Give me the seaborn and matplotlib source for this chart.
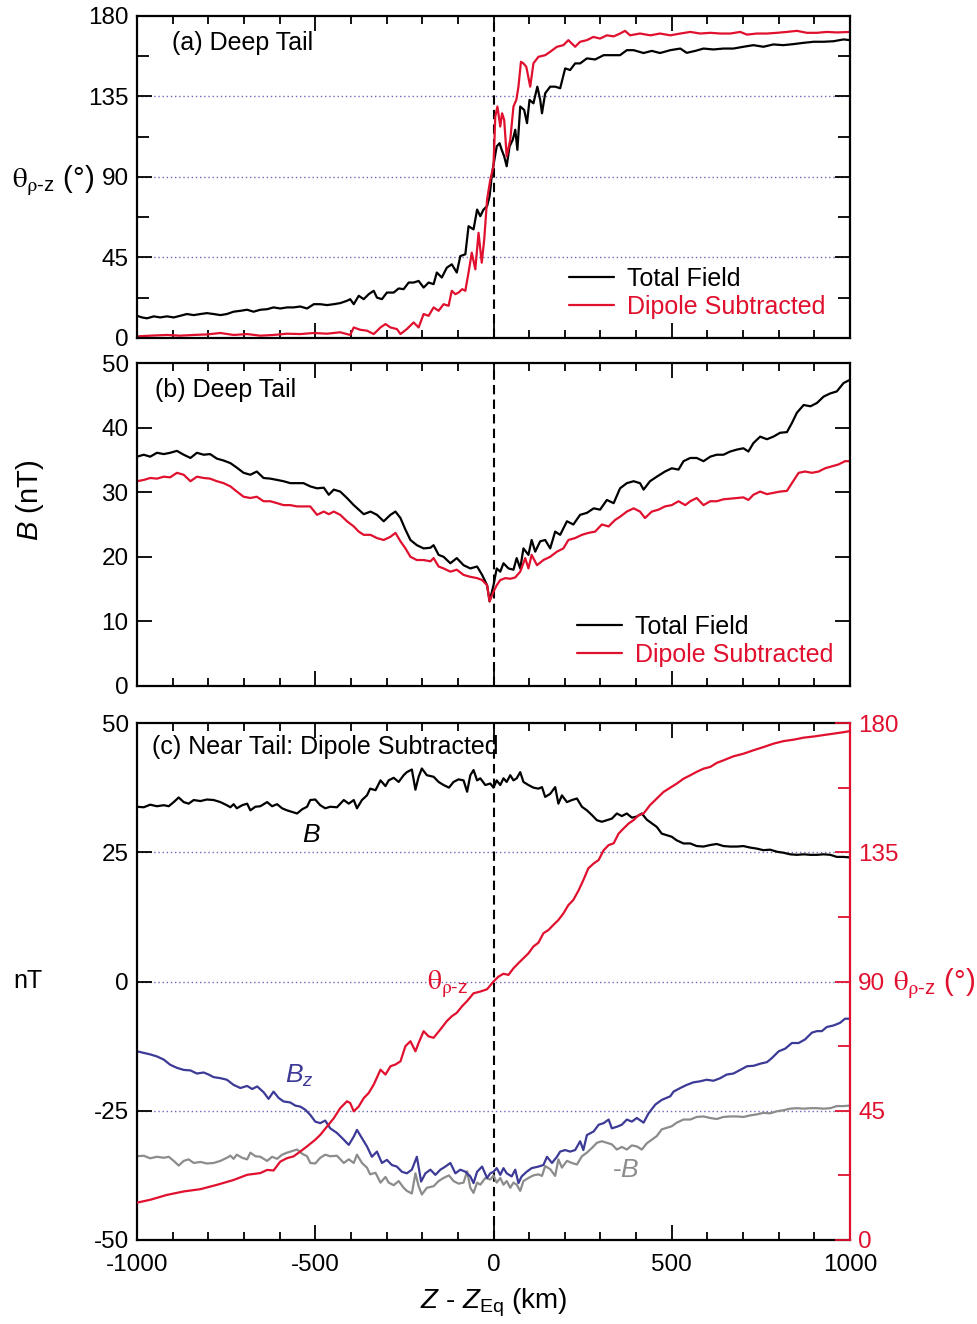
import matplotlib
matplotlib.use("Agg")
import numpy as np
import pandas as pd
import matplotlib.pyplot as plt
import seaborn as sns
from matplotlib.ticker import MultipleLocator, NullLocator

# ---- data ----
# (a) deep tail, field angle theta_rho-z (deg), total field
xa_tot = [-1000, -986, -972, -953, -935, -916, -897, -879, -860, -841,
          -822, -804, -785, -766, -748, -729, -710, -691, -673, -654,
          -635, -617, -598, -579, -561, -542, -523, -504, -486, -467,
          -448, -430, -411, -402, -392, -378, -364, -350, -336, -327,
          -313, -299, -280, -266, -252, -238, -224, -210, -196, -182,
          -168, -159, -145, -131, -117, -103, -93, -79, -70, -56,
          -46, -37, -28, -18, -11, -5, 0, 9, 17, 23,
          30, 37, 45, 54, 61, 67, 75, 86, 94, 101,
          112, 123, 131, 136, 145, 159, 173, 187, 201, 215,
          229, 243, 262, 285, 309, 337, 355, 374, 393, 421,
          444, 467, 496, 524, 542, 566, 589, 617, 645, 673,
          701, 729, 757, 785, 813, 842, 870, 898, 926, 954,
          982, 1000]
theta_a_tot = [12.4, 11.5, 11.0, 12.1, 11.5, 12.1, 11.5, 12.4, 13.4, 12.8,
               13.4, 13.9, 13.4, 12.8, 13.4, 14.7, 15.2, 15.8, 14.7, 15.8,
               16.1, 17.1, 16.5, 17.1, 17.1, 17.6, 16.5, 18.9, 18.9, 18.4,
               18.9, 19.5, 20.8, 21.7, 18.9, 23.6, 21.7, 24.5, 26.4, 22.6,
               21.7, 25.4, 25.4, 27.7, 27.3, 31.0, 31.0, 31.9, 28.2, 31.0,
               30.1, 36.6, 33.8, 39.3, 41.2, 36.6, 45.8, 46.8, 62.5, 60.7,
               71.8, 68.1, 71.8, 73.7, 79.2, 90.4, 96.9, 107.1, 108.9, 105.2,
               101.5, 96.0, 107.1, 110.8, 116.4, 105.2, 129.4, 127.5, 120.1, 133.1,
               131.2, 140.5, 133.1, 125.6, 136.8, 140.5, 140.5, 139.6, 150.7, 149.8,
               153.5, 153.5, 156.3, 155.7, 158.1, 158.1, 158.1, 160.9, 160.9, 159.3,
               160.5, 159.3, 160.9, 161.8, 159.4, 160.5, 161.8, 161.3, 161.8, 161.8,
               162.8, 163.7, 162.8, 164.1, 163.7, 164.3, 165.0, 165.6, 165.6, 165.9,
               166.9, 166.5]
# (a) dipole subtracted
xa_dip = [-1000, -963, -916, -879, -841, -804, -766, -729, -691, -654,
          -617, -579, -542, -504, -467, -430, -402, -392, -374, -355,
          -336, -317, -303, -289, -271, -261, -243, -224, -210, -196,
          -182, -168, -154, -140, -126, -117, -107, -98, -88, -79,
          -70, -61, -51, -42, -33, -26, -18, -9, 0, 5,
          11, 19, 24, 30, 37, 47, 56, 64, 70, 77,
          84, 92, 103, 112, 126, 145, 159, 178, 196, 210,
          229, 243, 262, 280, 299, 318, 337, 355, 369, 383,
          411, 440, 467, 496, 524, 552, 580, 608, 636, 664,
          692, 711, 739, 767, 795, 823, 851, 879, 907, 935,
          963, 1000]
theta_a_dip = [0.9, 1.3, 1.7, 1.3, 1.7, 2.0, 2.8, 1.7, 2.2, 1.3,
               1.7, 2.4, 2.2, 2.8, 2.4, 3.2, 1.7, 5.9, 4.6, 4.1,
               2.2, 5.9, 7.8, 5.9, 5.0, 2.2, 5.0, 8.7, 5.9, 13.4,
               12.4, 17.1, 15.2, 18.9, 18.0, 26.4, 24.5, 25.4, 27.3, 26.4,
               36.6, 47.7, 38.4, 58.8, 42.1, 55.1, 77.4, 88.5, 96.0, 123.8,
               129.4, 118.2, 125.6, 121.9, 101.5, 110.8, 129.4, 133.1, 140.5, 154.4,
               153.5, 151.6, 140.5, 153.5, 157.2, 158.1, 160.0, 162.8, 163.7, 166.5,
               162.8, 165.6, 166.5, 168.3, 167.4, 169.2, 168.6, 170.2, 171.7, 169.2,
               170.2, 169.2, 170.2, 169.2, 170.2, 171.1, 170.2, 170.6, 170.2, 170.2,
               171.1, 169.6, 170.2, 170.2, 170.6, 171.1, 171.7, 170.6, 170.6, 171.1,
               170.8, 171.1]

# (b) deep tail, field magnitude (nT), total field
xb_tot = [-1000, -981, -963, -944, -925, -907, -888, -869, -850, -832,
          -813, -795, -776, -757, -738, -720, -701, -682, -664, -645,
          -626, -607, -589, -570, -551, -533, -514, -495, -476, -462,
          -448, -430, -411, -392, -378, -364, -345, -327, -308, -289,
          -275, -261, -247, -233, -215, -196, -177, -168, -154, -140,
          -121, -103, -84, -65, -46, -32, -18, -11, 0, 9,
          19, 28, 42, 56, 65, 75, 84, 98, 107, 117,
          131, 145, 159, 173, 187, 206, 224, 243, 262, 281,
          299, 318, 337, 355, 374, 393, 411, 421, 439, 458,
          481, 500, 519, 533, 552, 570, 589, 608, 626, 645,
          664, 683, 701, 715, 729, 748, 767, 785, 804, 823,
          837, 851, 870, 889, 907, 926, 945, 963, 982, 1000]
b_tot = [35.5, 35.8, 35.5, 36.1, 35.9, 36.1, 36.4, 35.8, 35.3, 36.1,
         35.8, 35.9, 35.2, 34.9, 34.5, 33.8, 33.0, 32.7, 33.2, 32.2,
         32.1, 31.9, 31.7, 31.4, 31.4, 31.4, 30.9, 30.6, 30.7, 29.6,
         30.4, 30.1, 29.1, 28.0, 27.3, 26.6, 27.0, 26.5, 25.5, 26.5,
         27.0, 26.0, 24.2, 22.6, 21.8, 21.3, 21.4, 21.8, 20.3, 20.0,
         19.0, 19.8, 18.7, 18.2, 18.5, 17.2, 15.6, 13.1, 15.6, 18.2,
         17.7, 19.0, 18.2, 18.0, 19.8, 18.2, 21.3, 20.3, 22.6, 20.8,
         22.4, 22.6, 21.3, 23.9, 23.4, 25.5, 25.0, 26.5, 26.8, 27.5,
         27.3, 28.8, 28.3, 30.6, 31.4, 31.7, 31.4, 30.4, 31.7, 32.4,
         33.2, 33.7, 33.5, 34.8, 35.3, 35.3, 34.8, 35.5, 35.8, 35.8,
         36.3, 36.6, 36.8, 36.3, 37.6, 38.6, 38.2, 38.6, 39.2, 39.3,
         40.7, 42.3, 43.5, 43.3, 43.8, 44.8, 45.3, 45.6, 46.9, 47.4]
# (b) dipole subtracted
xb_dip = [-1000, -981, -963, -944, -925, -907, -888, -869, -850, -832,
          -813, -795, -776, -757, -738, -720, -701, -682, -664, -645,
          -626, -607, -589, -570, -551, -533, -514, -495, -476, -462,
          -448, -430, -411, -392, -378, -364, -345, -327, -308, -289,
          -275, -261, -247, -233, -215, -196, -177, -168, -154, -140,
          -121, -103, -84, -65, -46, -32, -18, -11, 0, 9,
          19, 33, 47, 61, 75, 89, 98, 107, 122, 140,
          159, 178, 196, 210, 229, 248, 266, 285, 304, 323,
          341, 355, 374, 393, 411, 425, 444, 463, 481, 500,
          519, 538, 552, 570, 589, 608, 626, 645, 664, 683,
          701, 715, 729, 748, 767, 785, 804, 823, 837, 856,
          874, 893, 912, 930, 949, 968, 986, 1000]
b_dip = [31.7, 31.9, 32.2, 32.1, 32.4, 32.3, 33.0, 32.7, 31.7, 32.4,
         32.2, 32.1, 31.7, 31.4, 30.9, 30.1, 29.3, 29.1, 29.3, 28.6,
         28.6, 28.3, 28.0, 28.0, 27.8, 27.8, 27.8, 26.5, 27.0, 26.6,
         27.0, 26.5, 25.5, 24.7, 23.9, 23.4, 23.4, 22.9, 22.6, 23.1,
         23.7, 22.4, 21.3, 20.0, 19.5, 19.5, 19.3, 19.8, 18.5, 18.2,
         17.7, 18.0, 17.2, 16.9, 16.7, 16.4, 15.6, 13.1, 14.6, 15.6,
         16.4, 16.7, 16.6, 16.8, 17.7, 19.8, 18.2, 20.3, 18.7, 19.5,
         20.0, 20.8, 21.3, 22.6, 22.9, 23.4, 23.7, 23.9, 25.0, 24.7,
         25.7, 26.2, 27.0, 27.5, 27.0, 26.0, 27.0, 27.3, 27.8, 28.0,
         28.6, 28.0, 28.6, 29.1, 28.0, 28.6, 28.6, 28.9, 29.0, 29.1,
         29.2, 28.8, 29.6, 30.1, 29.7, 29.9, 30.1, 30.2, 31.4, 33.0,
         33.2, 33.0, 33.2, 33.7, 34.0, 34.3, 34.8, 34.8]

# (c) near tail, dipole subtracted: B (nT)
xc_b = [-1000, -981, -963, -944, -925, -911, -897, -883, -869, -855,
        -841, -822, -804, -785, -766, -748, -738, -729, -720, -705,
        -691, -682, -668, -654, -635, -621, -607, -593, -579, -565,
        -551, -537, -523, -514, -500, -486, -472, -458, -439, -420,
        -406, -392, -383, -369, -355, -346, -331, -317, -303, -294,
        -280, -266, -252, -243, -229, -219, -210, -201, -187, -168,
        -154, -140, -125, -112, -98, -84, -74, -65, -56, -46,
        -37, -23, -9, 0, 9, 19, 28, 37, 47, 56,
        65, 75, 84, 98, 112, 126, 136, 145, 159, 173,
        182, 192, 206, 220, 234, 248, 262, 276, 290, 304,
        318, 332, 346, 360, 374, 388, 402, 416, 430, 444,
        458, 472, 486, 500, 514, 533, 552, 570, 589, 608,
        626, 645, 664, 683, 701, 720, 739, 757, 776, 795,
        814, 832, 851, 870, 889, 907, 926, 945, 963, 982,
        1000]
b_c = [33.8, 33.7, 34.2, 33.9, 34.1, 33.9, 34.7, 35.6, 34.7, 34.4,
       35.1, 34.9, 35.2, 35.1, 34.7, 34.1, 33.7, 34.3, 33.5, 34.1,
       34.4, 33.1, 33.8, 33.9, 34.7, 33.9, 34.3, 33.5, 33.1, 32.8,
       32.5, 33.3, 33.8, 35.1, 35.2, 34.1, 33.5, 33.8, 33.7, 35.1,
       34.4, 35.1, 33.5, 35.1, 36.0, 37.3, 37.0, 38.9, 37.8, 38.9,
       39.4, 38.6, 39.9, 40.5, 41.0, 37.1, 39.6, 41.2, 39.9, 39.6,
       38.6, 38.0, 37.5, 38.6, 39.1, 38.9, 36.7, 39.9, 40.9, 38.9,
       39.3, 38.0, 38.3, 37.5, 38.9, 38.0, 39.3, 38.6, 39.9, 38.9,
       39.3, 40.5, 38.6, 38.0, 37.5, 37.3, 37.6, 35.7, 36.3, 37.6,
       34.4, 36.0, 34.7, 35.1, 35.4, 33.8, 33.1, 32.2, 31.2, 30.9,
       31.2, 31.5, 32.5, 32.0, 32.5, 31.7, 31.9, 32.5, 31.3, 30.6,
       29.9, 28.6, 28.3, 28.0, 27.3, 26.7, 26.7, 26.2, 26.1, 26.4,
       26.6, 26.2, 26.1, 26.1, 26.2, 25.9, 25.7, 25.4, 25.5, 25.1,
       24.9, 24.6, 24.5, 24.6, 24.5, 24.5, 24.6, 24.5, 24.1, 24.1,
       24.0]
# (c) Bz (nT)
xc_bz = [-1000, -981, -963, -944, -925, -907, -888, -869, -850, -832,
         -813, -799, -785, -766, -748, -729, -710, -691, -677, -663,
         -645, -631, -617, -603, -589, -570, -556, -542, -528, -514,
         -500, -486, -472, -458, -439, -420, -406, -392, -383, -369,
         -355, -341, -327, -313, -299, -285, -271, -257, -243, -229,
         -215, -203, -191, -177, -163, -149, -135, -121, -107, -93,
         -79, -65, -56, -46, -32, -18, -9, 0, 9, 19,
         28, 37, 51, 61, 70, 79, 93, 107, 126, 140,
         150, 164, 178, 187, 201, 215, 229, 243, 252, 262,
         281, 295, 309, 323, 332, 346, 360, 374, 388, 402,
         421, 435, 454, 472, 496, 505, 524, 542, 561, 580,
         598, 617, 636, 654, 673, 692, 711, 730, 748, 767,
         781, 800, 818, 837, 856, 874, 893, 907, 921, 935,
         954, 972, 986, 1000]
bz_c = [-13.5, -13.8, -14.1, -14.5, -15.1, -16.1, -16.7, -17.1, -17.2, -17.8,
        -17.6, -18.0, -18.5, -18.7, -19.0, -20.0, -20.6, -20.2, -20.8, -20.3,
        -21.4, -22.7, -21.3, -22.5, -23.2, -23.4, -24.0, -24.2, -24.8, -25.8,
        -27.1, -27.4, -26.9, -28.4, -29.3, -30.6, -31.6, -30.0, -28.7, -30.3,
        -31.9, -33.9, -32.9, -35.1, -34.5, -35.5, -35.8, -36.8, -37.1, -36.4,
        -33.9, -38.7, -37.1, -36.4, -37.4, -36.4, -35.8, -35.1, -37.1, -36.4,
        -36.8, -37.7, -39.0, -36.8, -35.8, -38.0, -37.1, -36.8, -36.1, -37.4,
        -36.1, -37.1, -37.7, -36.4, -39.0, -37.7, -36.8, -36.1, -35.8, -35.5,
        -33.9, -35.1, -33.9, -32.9, -32.6, -32.9, -32.6, -30.9, -32.6, -29.7,
        -29.0, -27.7, -27.4, -26.7, -28.4, -28.1, -27.7, -26.7, -27.1, -26.4,
        -27.3, -25.5, -23.8, -22.9, -22.2, -21.3, -20.6, -20.0, -19.5, -19.3,
        -19.0, -19.2, -18.7, -18.0, -17.8, -17.1, -16.4, -16.3, -15.9, -15.6,
        -14.8, -13.5, -13.0, -11.9, -11.9, -11.2, -9.9, -9.6, -9.6, -8.8,
        -8.5, -8.0, -7.2, -7.2]
# (c) theta_rho-z (deg), right axis
xc_th = [-1000, -963, -916, -869, -822, -776, -729, -691, -654, -635,
         -617, -598, -579, -561, -542, -523, -500, -486, -467, -448,
         -430, -411, -402, -392, -378, -364, -350, -336, -317, -303,
         -289, -275, -261, -247, -233, -219, -210, -196, -182, -168,
         -149, -131, -117, -103, -88, -74, -56, -37, -18, 0,
         14, 28, 42, 56, 70, 84, 98, 112, 126, 140,
         154, 168, 182, 196, 210, 224, 239, 252, 266, 281,
         295, 309, 323, 337, 351, 365, 379, 393, 407, 421,
         439, 458, 477, 496, 514, 533, 552, 570, 589, 608,
         626, 645, 673, 701, 729, 757, 785, 814, 842, 870,
         898, 926, 954, 982, 1000]
theta_c = [13.0, 14.0, 15.7, 16.9, 17.7, 19.2, 20.9, 22.7, 23.3, 24.4,
           24.2, 27.3, 28.5, 29.1, 30.8, 32.6, 34.9, 36.6, 39.5, 42.4,
           45.9, 48.3, 47.7, 44.8, 46.5, 49.4, 51.2, 54.1, 59.3, 57.6,
           60.5, 61.1, 62.2, 67.5, 69.2, 65.7, 68.6, 72.7, 70.9, 70.4,
           73.3, 76.2, 77.9, 79.1, 81.4, 83.2, 85.9, 86.5, 87.3, 90.0,
           91.7, 92.7, 92.3, 94.6, 96.4, 98.1, 99.8, 102.2, 103.5, 106.8,
           107.9, 109.7, 111.4, 113.7, 116.6, 118.4, 121.8, 125.3, 129.4, 131.1,
           132.3, 135.7, 137.5, 138.1, 141.5, 143.3, 145.0, 146.2, 147.9, 148.5,
           151.4, 153.7, 156.0, 157.5, 158.9, 160.6, 161.8, 163.0, 164.1, 164.7,
           166.1, 167.0, 168.4, 169.3, 170.5, 171.6, 172.8, 173.7, 174.2, 174.9,
           175.3, 175.8, 176.3, 176.8, 177.2]

RED = "#e0102e"
BLUE = "#3c3a96"
GRAY = "#8c8c8c"
GRID = "#6a6abb"
THETA = r"$\mathcal{θ}_{\mathcal{ρ}\text{-z}}$"
LW = 1.6

sns.set_theme(style="ticks")
plt.rcParams["font.family"] = ["Liberation Sans", "DejaVu Sans"]
plt.rcParams["mathtext.fontset"] = "custom"
plt.rcParams["mathtext.rm"] = "Liberation Sans"
plt.rcParams["mathtext.it"] = "Liberation Sans:italic"
plt.rcParams["mathtext.sf"] = "Liberation Sans"
plt.rcParams["mathtext.cal"] = "STIXGeneral"
plt.rcParams["axes.unicode_minus"] = False
plt.rcParams["text.color"] = "black"
plt.rcParams["axes.labelcolor"] = "black"
plt.rcParams["xtick.color"] = "black"
plt.rcParams["ytick.color"] = "black"

fig = plt.figure(figsize=(9.77, 13.24), dpi=100)
L, W = 137 / 977, 713 / 977
ax_a = fig.add_axes([L, 1 - 338 / 1324, W, 322 / 1324])
ax_b = fig.add_axes([L, 1 - 686 / 1324, W, 323 / 1324])
ax_c = fig.add_axes([L, 1 - 1240 / 1324, W, 517 / 1324])


def style(ax, right=True):
    ax.set_xlim(-1000, 1000)
    ax.xaxis.set_major_locator(MultipleLocator(500))
    ax.xaxis.set_minor_locator(MultipleLocator(100))
    ax.tick_params(which="both", direction="in", top=True, right=right,
                   width=1.3, colors="black", labelsize=17.5, pad=6)
    ax.tick_params(axis="x", pad=10)
    ax.tick_params(which="major", length=11)
    ax.tick_params(which="minor", length=6)
    for s in ax.spines.values():
        s.set_linewidth(1.6)
        s.set_color("black")
    ax.axvline(0, color="black", lw=1.5, ls=(0, (4.5, 2.5)), zorder=1)
    ax.set_xlabel("")
    ax.set_ylabel("")


def grid(ax, vals):
    for v in vals:
        ax.axhline(v, color=GRID, lw=1, ls=(0, (1, 2)), zorder=0.5)


legend_kw = dict(loc="lower right", frameon=False, fontsize=18,
                 handlelength=1.8, handletextpad=0.52, labelspacing=0.15,
                 borderpad=0, borderaxespad=0, labelcolor="linecolor")

# ---- (a) ----
sns.lineplot(x=xa_tot, y=theta_a_tot, ax=ax_a, color="black", lw=LW,
             label="Total Field", estimator=None, sort=False)
sns.lineplot(x=xa_dip, y=theta_a_dip, ax=ax_a, color=RED, lw=LW,
             label="Dipole Subtracted", estimator=None, sort=False)
style(ax_a)
ax_a.set_ylim(0, 180)
ax_a.yaxis.set_major_locator(MultipleLocator(45))
ax_a.yaxis.set_minor_locator(MultipleLocator(22.5))
ax_a.tick_params(axis="y", which="minor", length=8.5)
ax_a.tick_params(labelbottom=False)
grid(ax_a, [45, 90, 135])
ax_a.text(0.049, 0.916, "(a) Deep Tail", transform=ax_a.transAxes,
          va="center", fontsize=18)
ax_a.text(-0.176, 0.469, THETA + " (°)", transform=ax_a.transAxes,
          ha="left", va="baseline", fontsize=21)
ax_a.legend(bbox_to_anchor=(0.965, 0.06), **legend_kw)

# ---- (b) ----
sns.lineplot(x=xb_tot, y=b_tot, ax=ax_b, color="black", lw=LW,
             label="Total Field", estimator=None, sort=False)
sns.lineplot(x=xb_dip, y=b_dip, ax=ax_b, color=RED, lw=LW,
             label="Dipole Subtracted", estimator=None, sort=False)
style(ax_b)
ax_b.set_ylim(0, 50)
ax_b.yaxis.set_major_locator(MultipleLocator(10))
ax_b.yaxis.set_minor_locator(NullLocator())
ax_b.tick_params(labelbottom=False)
ax_b.text(0.025, 0.916, "(b) Deep Tail", transform=ax_b.transAxes,
          va="center", fontsize=18)
ax_b.text(-0.150, 0.576, r"$B$ (nT)", transform=ax_b.transAxes, rotation=90,
          ha="center", va="center", fontsize=21)
ax_b.legend(bbox_to_anchor=(0.976, 0.06), **legend_kw)

# ---- (c) ----
neg_b = [-v for v in b_c]
sns.lineplot(x=xc_b, y=b_c, ax=ax_c, color="black", lw=LW,
             estimator=None, sort=False)
sns.lineplot(x=xc_b, y=neg_b, ax=ax_c, color=GRAY, lw=LW,
             estimator=None, sort=False)
sns.lineplot(x=xc_bz, y=bz_c, ax=ax_c, color=BLUE, lw=LW,
             estimator=None, sort=False)
style(ax_c, right=False)
ax_c.spines["right"].set_visible(False)
ax_c.set_ylim(-50, 50)
ax_c.yaxis.set_major_locator(MultipleLocator(25))
ax_c.yaxis.set_minor_locator(NullLocator())
grid(ax_c, [-25, 0, 25])
ax_c.text(0.021, 0.954, "(c) Near Tail: Dipole Subtracted",
          transform=ax_c.transAxes, va="center", fontsize=18)
ax_c.text(-0.174, 0.5, "nT", transform=ax_c.transAxes, ha="left",
          va="center", fontsize=18)
ax_c.text(-537, 27.0, r"$B$", fontsize=19, color="black")
ax_c.text(-584, -19.6, r"$B_{z}$", fontsize=19, color=BLUE)
ax_c.text(332, -37.8, r"-$B$", fontsize=19, color=GRAY)
ax_c.text(-186, -1.6, THETA, fontsize=20, color=RED)
ax_c.set_xlabel(r"$Z$ - $Z_{\mathrm{Eq}}$ (km)", fontsize=20, labelpad=8,
                color="black")

ax_t = ax_c.twinx()
sns.lineplot(x=xc_th, y=theta_c, ax=ax_t, color=RED, lw=LW,
             estimator=None, sort=False)
ax_t.set_ylim(0, 180)
ax_t.set_ylabel("")
ax_t.yaxis.set_major_locator(MultipleLocator(45))
ax_t.yaxis.set_minor_locator(MultipleLocator(22.5))
ax_t.tick_params(which="both", direction="in", right=True, left=False,
                 width=1.3, colors=RED, labelsize=17.5, pad=6)
ax_t.tick_params(which="major", length=11)
ax_t.tick_params(which="minor", length=8.5)
for side in ["left", "top", "bottom"]:
    ax_t.spines[side].set_visible(False)
ax_t.spines["right"].set_color(RED)
ax_t.spines["right"].set_linewidth(1.6)
ax_t.text(1.060, 0.4836, THETA + " (°)", transform=ax_t.transAxes,
          ha="left", va="baseline", fontsize=21, color=RED)

fig.savefig("out.png", dpi=100, facecolor="white")
